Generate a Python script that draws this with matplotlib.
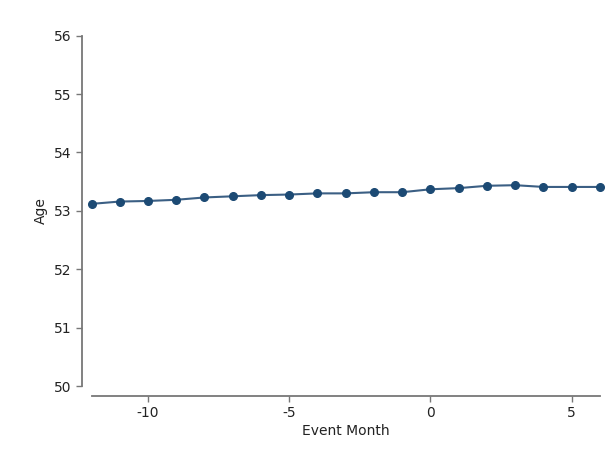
import matplotlib
matplotlib.use("Agg")
import matplotlib.pyplot as plt

months = [-12, -11, -10, -9, -8, -7, -6, -5, -4, -3, -2, -1, 0, 1, 2, 3, 4, 5, 6]
age = [53.12, 53.16, 53.17, 53.19, 53.23, 53.25, 53.27, 53.28, 53.30, 53.30,
       53.32, 53.32, 53.37, 53.39, 53.43, 53.44, 53.41, 53.41, 53.41]
xticks = [-10, -5, 0, 5]
yticks = [50, 51, 52, 53, 54, 55, 56]

plt.rcParams['font.family'] = ['DejaVu Sans']
fig = plt.figure(figsize=(6.10, 4.51), dpi=100)
ax = fig.add_axes([0.150, 0.144, 0.8336, 0.7768])

ax.plot(months, age, color='#3b5f84', linewidth=1.5, zorder=2)
ax.plot(months, age, linestyle='none', marker='o', markersize=5.5,
        color='#1c4a74', zorder=3, clip_on=False)

ax.set_xlim(-12, 6)
ax.set_ylim(50, 56)
ax.set_xticks(xticks)
ax.set_yticks(yticks)
ax.set_xticklabels([str(t) for t in xticks])
ax.set_yticklabels([str(t) for t in yticks])

for s in ['top', 'right']:
    ax.spines[s].set_visible(False)
for s in ['left', 'bottom']:
    ax.spines[s].set_position(('outward', 7.0))
    ax.spines[s].set_color('#777777')
    ax.spines[s].set_linewidth(1.3)
ax.tick_params(axis='both', colors='#777777', labelcolor='#222222',
               labelsize=10, length=4, width=1)

ax.set_xlabel('Event Month', fontsize=10, color='#222222', labelpad=3)
ax.set_ylabel('Age', fontsize=10, color='#222222', labelpad=4)

fig.savefig('out.png', dpi=100, facecolor='white')
